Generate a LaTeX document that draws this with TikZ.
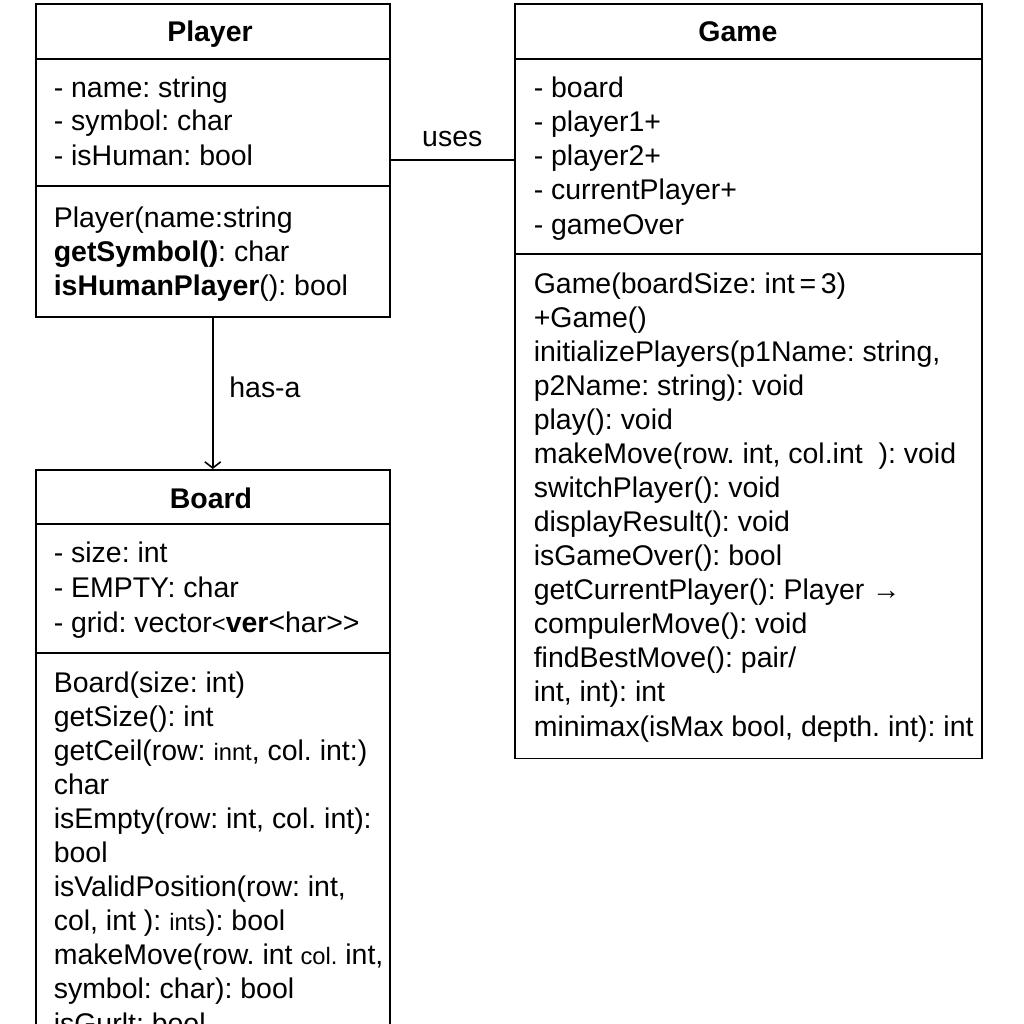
\documentclass[tikz,border=0pt]{standalone}
\usepackage{fontspec}
\setmainfont{Liberation Sans}
\usetikzlibrary{arrows.meta}
\newcommand\smtxt[1]{{\fontsize{13.5}{16}\selectfont #1}}
\frenchspacing

\begin{document}
\begin{tikzpicture}[x=0.02cm,y=-0.02cm,line width=0.9pt,
  cls/.style={draw,anchor=north west,inner sep=0pt,minimum width=#1},
  txt/.style={anchor=base west,inner sep=0pt,font=\fontsize{16.2}{19}\selectfont},
  ttl/.style={anchor=base,inner sep=0pt,font=\fontsize{16.2}{19}\selectfont\bfseries}]
\clip (0,0) rectangle (1024,1024);
% class boxes
\node[cls=7.08cm,minimum height=6.26cm] (player) at (35,3) {};
\node[cls=9.34cm,minimum height=15.1cm] (game) at (514,3) {};
\node[cls=7.08cm,minimum height=11.9cm] (board) at (35,469) {};
\foreach \n/\y in {player/59, player/186, game/59, game/254, board/524, board/653}
  \draw (\n.west |- 0,\y) -- (\n.east |- 0,\y);
\node[ttl] (playerT) at (210,42) {Player};
\node[ttl] (gameT) at (738,42) {Game};
\node[ttl] (boardT) at (211,508) {Board};
% Player
\foreach \t [count=\i from 0] in {- name: string, - symbol: char, - isHuman: bool}
  \node[txt] (pa\i) at (53,97+34*\i) {\t};
\foreach \t [count=\i from 0] in {Player(name:string, \textbf{getSymbol()}: char,
    \textbf{isHumanPlayer}(): bool}
  \node[txt] (pm\i) at (53,227+34*\i) {\t};
% Board
\foreach \t [count=\i from 0] in {- size: int, - EMPTY: char,
    - grid: vector\smtxt{<}\textbf{ver}<har>{}>}
  \node[txt] (ba\i) at (53,562+35*\i) {\t};
\foreach \t [count=\i from 0] in {Board(size: int), getSize(): int,
    {getCeil(row: \smtxt{innt}, col. int:)}, char, {isEmpty(row: int, col. int):}, bool,
    {isValidPosition(row: int,}, {col, int ): \smtxt{ints}): bool},
    {makeMove(row. int \smtxt{col.} int,}, symbol: char): bool, isGurlt: bool}
  \node[txt] (bm\i) at (53,692+34.1*\i) {\t};
% Game
\foreach \t [count=\i from 0] in {- board, - player1+, - player2+, - currentPlayer+, - gameOver}
  \node[txt] (ga\i) at (533,97+34.25*\i) {\t};
\foreach \t [count=\i from 0] in {Game(boardSize: int\,=\,3), +Game(),
    {initializePlayers(p1Name: string,}, p2Name: string): void, play(): void,
    {makeMove(row. int, col.int\ \ ): void}, switchPlayer(): void, displayResult(): void,
    isGameOver(): bool, getCurrentPlayer(): Player →, compulerMove(): void,
    findBestMove(): pair/, {int, int): int}, {minimax(isMax bool, depth. int): int}}
  \node[txt] (gm\i) at (533,293+34.08*\i) {\t};
% relations
\draw (player.east) -- node[above=7.5pt,inner sep=0pt,font=\fontsize{16.2}{19}\selectfont] (usesL) {uses}
  (player.east -| game.west);
\draw[-{Straight Barb[length=3.5pt,width=9pt]}] (player.south) --
  node[pos=.46,right=9pt,inner sep=0pt,font=\fontsize{16.2}{19}\selectfont] (hasL) {has-a} (board.north);
\end{tikzpicture}
\end{document}
